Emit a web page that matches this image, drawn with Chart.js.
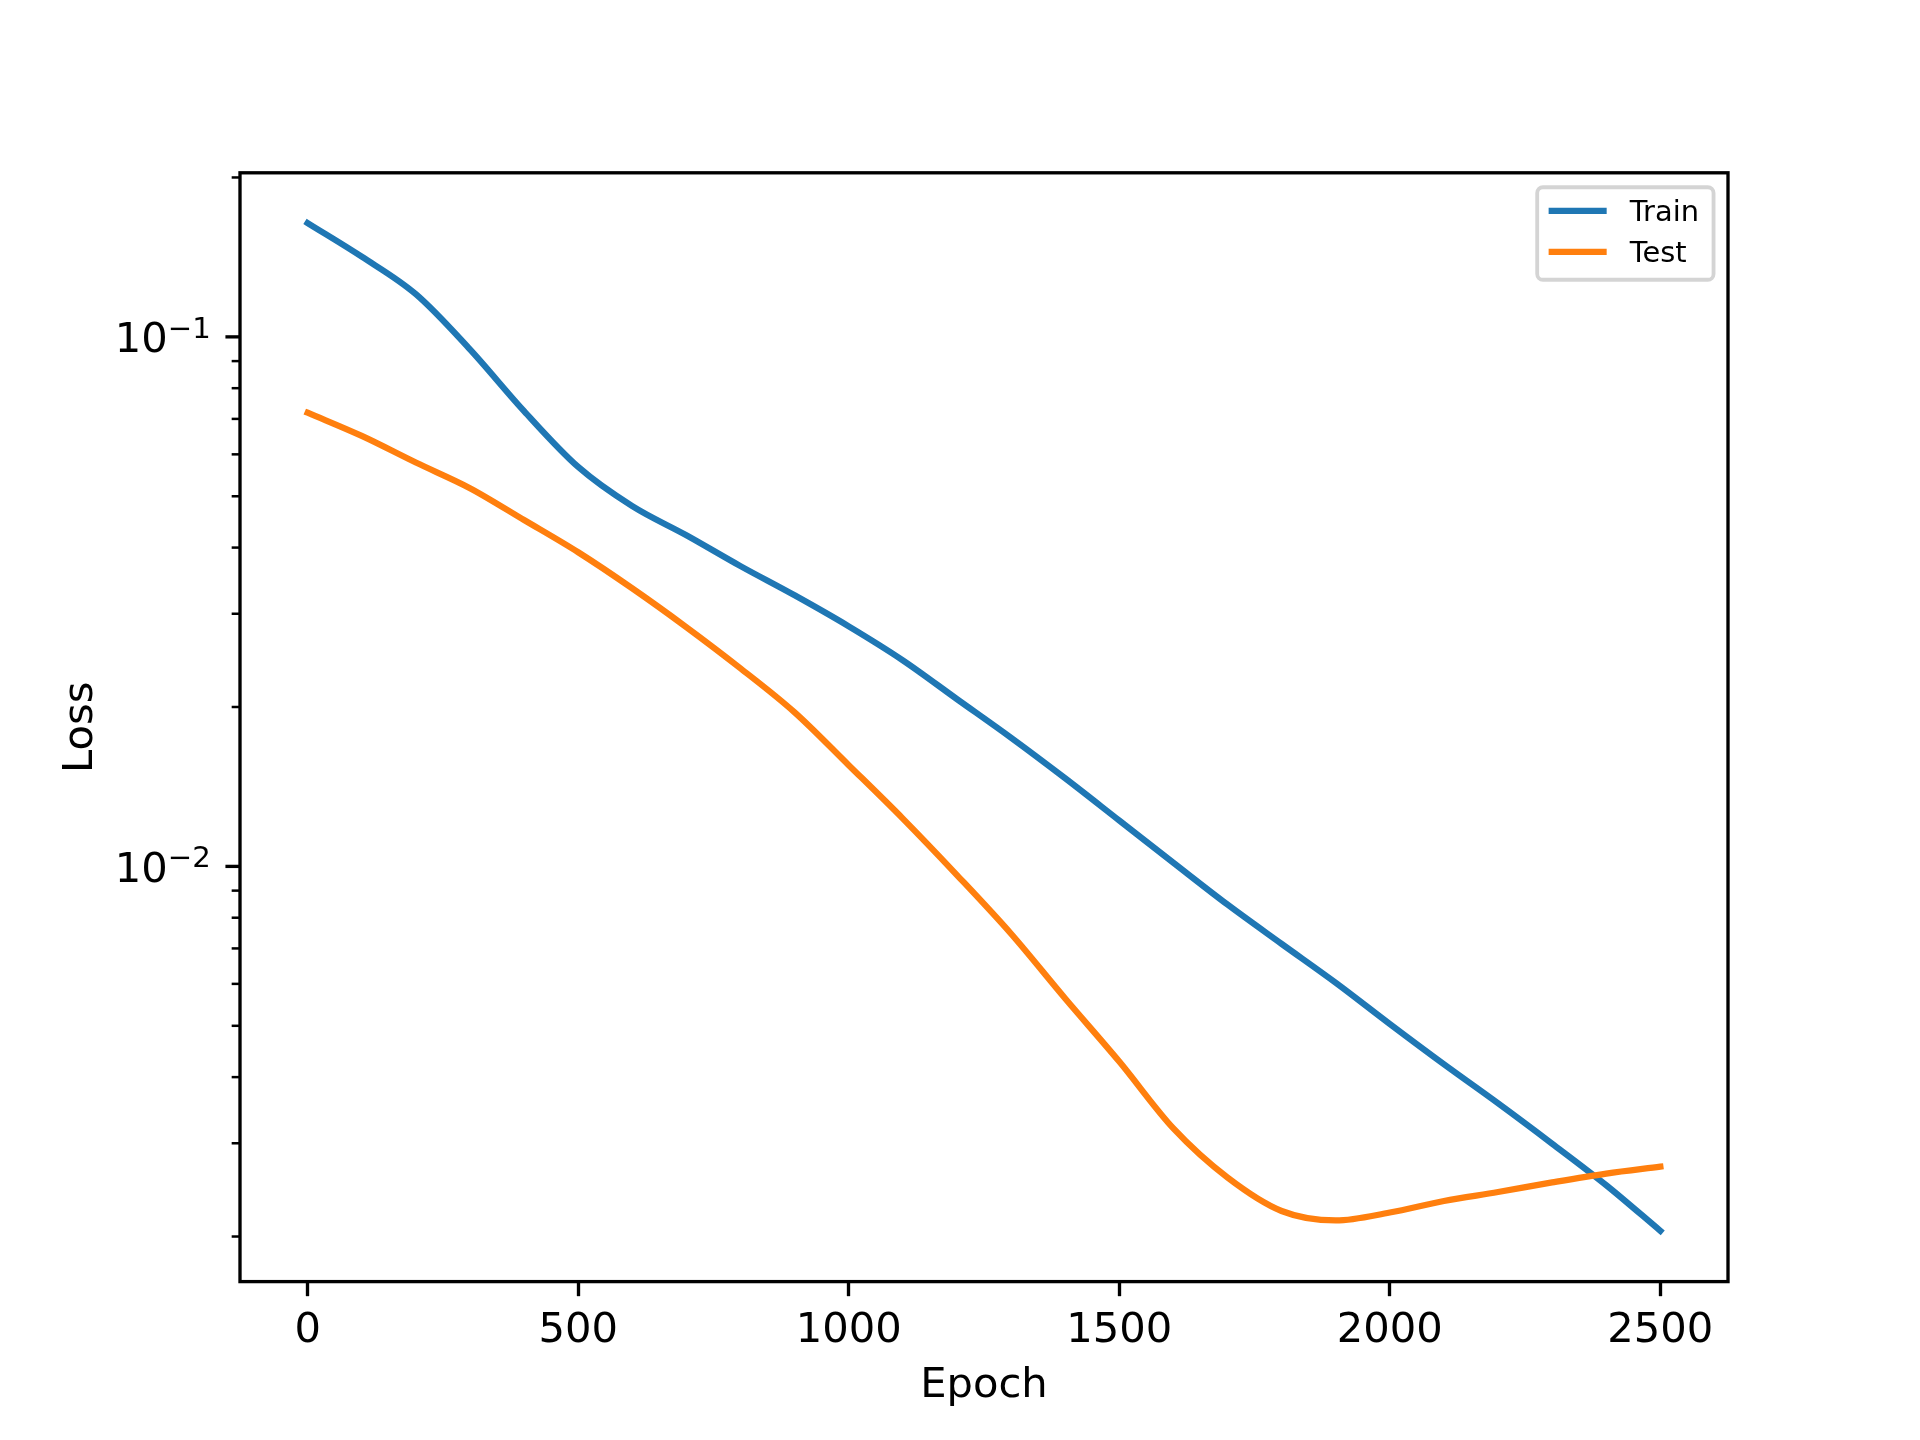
<!DOCTYPE html>
<html>
<head>
<meta charset="utf-8">
<script src="https://cdn.jsdelivr.net/npm/chart.js@4.4.1/dist/chart.umd.min.js"></script>
<style>
  html, body { margin: 0; padding: 0; background: #fff; }
  #wrap { width: 1920px; height: 1440px; }
</style>
</head>
<body>
<div id="wrap"><canvas id="lossChart" width="1920" height="1440"></canvas></div>
<script>
  // ---- data ----
  const epochs = [0, 100, 200, 300, 400, 500, 600, 700, 800, 900, 1000, 1100, 1200,
    1300, 1400, 1500, 1600, 1700, 1800, 1900, 2000, 2100, 2200, 2300, 2400, 2500];

  const trainLoss = [0.164, 0.1417, 0.1204, 0.0947, 0.0724, 0.0568, 0.0479, 0.0422, 0.0369,
    0.0325, 0.0284, 0.0245, 0.0207, 0.0175, 0.01467, 0.01221, 0.01016, 0.00847, 0.00714,
    0.00603, 0.00504, 0.00423, 0.00357, 0.002995, 0.0025, 0.00205];

  const testLoss = [0.0719, 0.0650, 0.0579, 0.0518, 0.0451, 0.0392, 0.0335, 0.0283, 0.02366,
    0.01954, 0.01553, 0.01231, 0.00963, 0.00746, 0.00563, 0.00428, 0.00320, 0.002585, 0.002235,
    0.002145, 0.00222, 0.002334, 0.002427, 0.002531, 0.00263, 0.00271];

  const xTickValues = [0, 500, 1000, 1500, 2000, 2500];
  const yMajorTicks = [0.01, 0.1];
  const yMajorExponents = ['\u22122', '\u22121'];
  const yMinorTicks = [0.002, 0.003, 0.004, 0.005, 0.006, 0.007, 0.008, 0.009,
    0.02, 0.03, 0.04, 0.05, 0.06, 0.07, 0.08, 0.09, 0.2];

  const FONT = "'DejaVu Sans', sans-serif";
  const FS = 41.67;        // 10pt at 300 dpi
  const LEGEND_FS = 28.9;  // x-small

  // ---- matplotlib-like axes: log ticks, frame, legend ----
  const mplAxes = {
    id: 'mplAxes',
    afterDatasetsDraw(chart) {
      const { ctx, chartArea: a, scales: { y } } = chart;
      ctx.save();
      ctx.strokeStyle = '#000';
      ctx.fillStyle = '#000';

      // y minor ticks
      ctx.lineWidth = 2.5;
      yMinorTicks.forEach(v => {
        const py = y.getPixelForValue(v);
        ctx.beginPath();
        ctx.moveTo(a.left - 8.33, py);
        ctx.lineTo(a.left, py);
        ctx.stroke();
      });

      // y major ticks + labels like 10^-1
      ctx.lineWidth = 3.33;
      const right = a.left - 14.58 - 14.58;
      yMajorTicks.forEach((v, i) => {
        const py = y.getPixelForValue(v);
        ctx.beginPath();
        ctx.moveTo(a.left - 14.58, py);
        ctx.lineTo(a.left, py);
        ctx.stroke();

        const exp = yMajorExponents[i];
        ctx.textAlign = 'left';
        ctx.textBaseline = 'alphabetic';
        ctx.font = `${FS * 0.7}px ${FONT}`;
        const wExp = ctx.measureText(exp).width;
        ctx.font = `${FS}px ${FONT}`;
        const wBase = ctx.measureText('10').width;
        const baseY = py + 15.2;
        ctx.fillText('10', right - wExp - wBase, baseY);
        ctx.font = `${FS * 0.7}px ${FONT}`;
        ctx.fillText(exp, right - wExp, baseY - 14.5);
      });

      // frame (all four spines)
      ctx.lineWidth = 3.33;
      ctx.strokeRect(a.left, a.top, a.right - a.left, a.bottom - a.top);

      // legend
      const pad = 0.4 * LEGEND_FS;
      const handleLen = 2.0 * LEGEND_FS;
      const textPad = 0.8 * LEGEND_FS;
      ctx.font = `${LEGEND_FS}px ${FONT}`;
      const dsets = chart.data.datasets;
      const textW = Math.max(...dsets.map(d => ctx.measureText(d.label).width));
      const w = pad + handleLen + textPad + textW + pad + 3;
      const h = 92.5;
      const x0 = a.right - 0.5 * LEGEND_FS - w;
      const y0 = a.top + 0.5 * LEGEND_FS;

      ctx.beginPath();
      ctx.roundRect(x0, y0, w, h, 5.8);
      ctx.fillStyle = 'rgba(255,255,255,0.8)';
      ctx.fill();
      ctx.lineWidth = 3.8;
      ctx.strokeStyle = 'rgba(204,204,204,0.85)';
      ctx.stroke();

      dsets.forEach((d, i) => {
        const ry = y0 + 23.5 + i * 41;
        ctx.beginPath();
        ctx.lineWidth = 6.25;
        ctx.lineCap = 'square';
        ctx.strokeStyle = d.borderColor;
        ctx.moveTo(x0 + pad + 3, ry);
        ctx.lineTo(x0 + pad + handleLen - 3, ry);
        ctx.stroke();
        ctx.fillStyle = '#000';
        ctx.textAlign = 'left';
        ctx.textBaseline = 'alphabetic';
        ctx.fillText(d.label, x0 + pad + handleLen + textPad, ry + 10.5);
      });

      ctx.restore();
    }
  };

  const ctx = document.getElementById('lossChart').getContext('2d');

  new Chart(ctx, {
    type: 'line',
    data: {
      datasets: [
        {
          label: 'Train',
          data: epochs.map((e, i) => ({ x: e, y: trainLoss[i] })),
          borderColor: '#1f77b4',
          borderWidth: 6.25,
          borderCapStyle: 'square',
          borderJoinStyle: 'round',
          pointRadius: 0,
          cubicInterpolationMode: 'monotone',
          fill: false,
          order: 1
        },
        {
          label: 'Test',
          data: epochs.map((e, i) => ({ x: e, y: testLoss[i] })),
          borderColor: '#ff7f0e',
          borderWidth: 6.25,
          borderCapStyle: 'square',
          borderJoinStyle: 'round',
          pointRadius: 0,
          cubicInterpolationMode: 'monotone',
          fill: false,
          order: 0
        }
      ]
    },
    options: {
      responsive: false,
      animation: false,
      devicePixelRatio: 1,
      layout: { padding: { top: 172.8, right: 192, left: 0, bottom: 0 } },
      plugins: {
        legend: { display: false },
        tooltip: { enabled: false }
      },
      scales: {
        x: {
          type: 'linear',
          min: -125,
          max: 2625,
          afterBuildTicks: scale => { scale.ticks = xTickValues.map(v => ({ value: v })); },
          afterFit: scale => { scale.height = 158.4; },
          border: { display: false },
          grid: {
            display: true,
            drawOnChartArea: false,
            drawTicks: true,
            tickLength: 14.58,
            tickWidth: 3.33,
            tickColor: '#000'
          },
          ticks: {
            color: '#000',
            font: { family: FONT, size: FS },
            padding: 9.5,
            maxRotation: 0,
            autoSkip: false,
            callback: v => String(v)
          },
          title: {
            display: true,
            text: 'Epoch',
            color: '#000',
            font: { family: FONT, size: FS },
            padding: { top: 0, bottom: 28.5 }
          }
        },
        y: {
          type: 'logarithmic',
          min: 0.001644,
          max: 0.2041,
          afterFit: scale => { scale.width = 240; },
          border: { display: false },
          grid: { display: false },
          ticks: { display: false },
          title: {
            display: true,
            text: 'Loss',
            color: '#000',
            font: { family: FONT, size: FS },
            padding: { top: 56, bottom: 0 }
          }
        }
      }
    },
    plugins: [mplAxes]
  });
</script>
</body>
</html>
